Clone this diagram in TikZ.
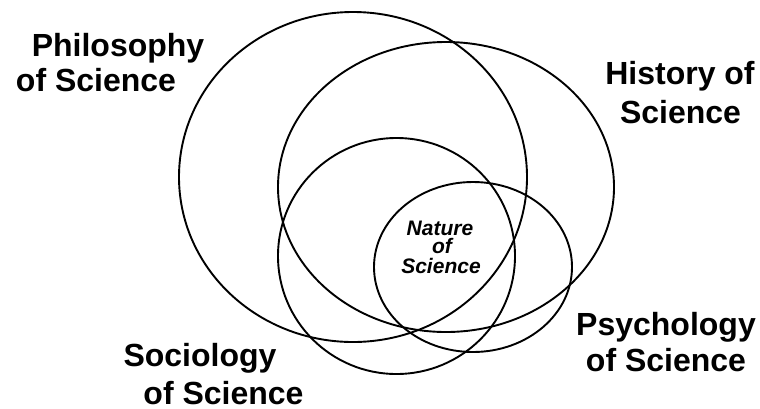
\documentclass[tikz,border=0pt]{standalone}
\usepackage{fontspec}
\setmainfont{Liberation Sans}
\begin{document}
\begin{tikzpicture}[x=1pt,y=-1pt,
  ring/.style={draw=black,line width=1.9pt},
  biglabel/.style={inner sep=0pt,anchor=base,font=\fontsize{32}{36}\selectfont\bfseries},
  corelabel/.style={inner sep=0pt,anchor=base,font=\fontsize{21}{21}\selectfont\bfseries\itshape}]
\useasboundingbox (0,0) rectangle (760,408);
% overlapping fields
\draw[ring] (353,177) ellipse [x radius=174pt, y radius=165pt];
\draw[ring] (446,187) ellipse [x radius=168pt, y radius=145pt];
\draw[ring] (396.5,256) ellipse [x radius=118.5pt, y radius=118pt];
\draw[ring] (473,267) ellipse [x radius=99pt, y radius=85pt];
% field labels
\node[biglabel] (phil1) at (118,56) {Philosophy};
\node[biglabel] (phil2) at (96,91) {of Science};
\node[biglabel] (hist1) at (680,84) {History of};
\node[biglabel] (hist2) at (680.5,123) {Science};
\node[biglabel] (soc1) at (200,366) {Sociology};
\node[biglabel] (soc2) at (223.5,404) {of Science};
\node[biglabel] (psy1) at (666,335) {Psychology};
\node[biglabel] (psy2) at (666,371) {of Science};
% core label
\node[corelabel] (nat1) at (440,235) {Nature};
\node[corelabel] (nat2) at (442,253) {of};
\node[corelabel] (nat3) at (441,273) {Science};
\end{tikzpicture}
\end{document}
